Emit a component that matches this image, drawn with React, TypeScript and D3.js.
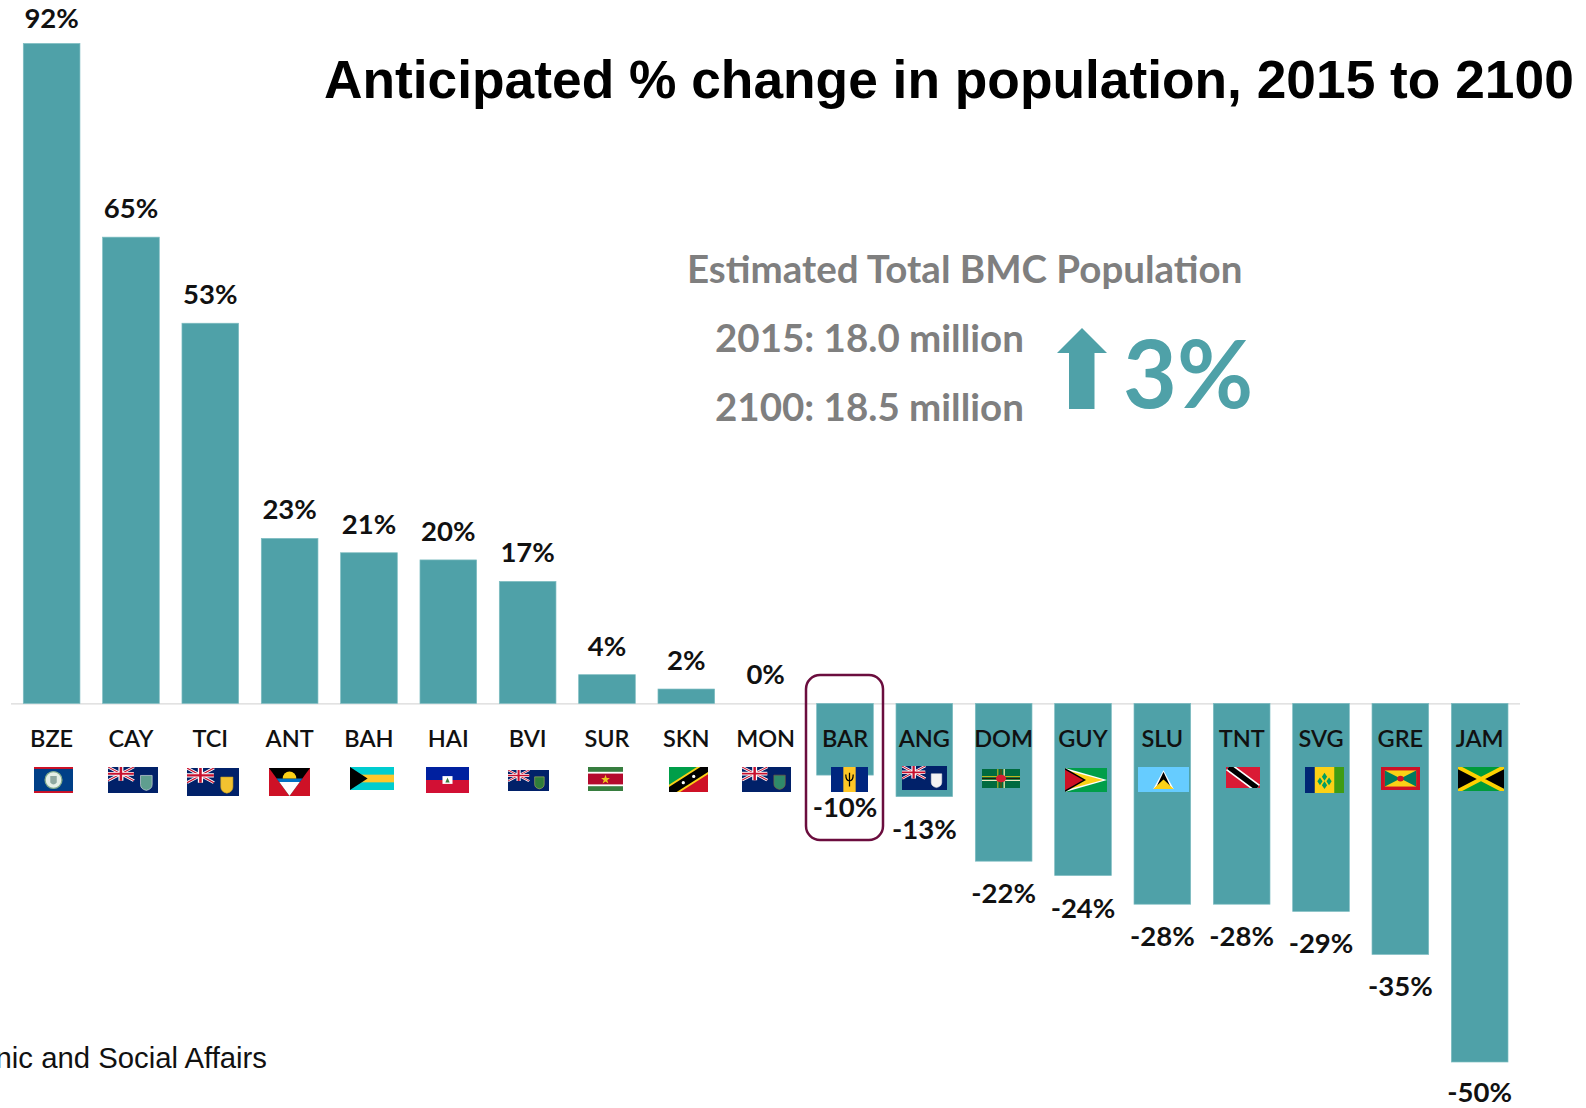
import React from "react";
import * as d3 from "d3";

const codes = ["BZE","CAY","TCI","ANT","BAH","HAI","BVI","SUR","SKN","MON","BAR","ANG","DOM","GUY","SLU","TNT","SVG","GRE","JAM"];
const changes = [92,65,53,23,21,20,17,4,2,0,-10,-13,-22,-24,-28,-28,-29,-35,-50];

const TEAL = "#4fa1a8";
const GREY = "#7f7f7f";
const W = 1586, H = 1108;

const x = d3.scaleBand<string>().domain(codes).range([23.3, 1508]).paddingInner(0.286).paddingOuter(0);
const y = d3.scaleLinear().domain([-50, 92]).range([1062, 43.5]);

// Flag boxes as [left, top, width, height] in page pixels
const flagBoxes: Record<string, number[]> = {
  BZE:[34,767,39,26], CAY:[108,767,50,26], TCI:[187,768,52,28], ANT:[269,768,41,28], BAH:[350,767,44,23],
  HAI:[426,767,43,26], BVI:[508,770,41,21], SUR:[588,767,35,24], SKN:[669,767,39,25], MON:[742,767,49,25],
  BAR:[831,767,37,25], ANG:[902,766,45,24], DOM:[982,769,38,19], GUY:[1065,768,42,24], SLU:[1138,767,51,25],
  TNT:[1226,767,34,21], SVG:[1305,767,39,26], GRE:[1381,767,39,23], JAM:[1458,767,46,24],
};

const NAVY = "#012169";
const RED = "#ce1126";

// Blue ensign: navy field, Union Jack canton, small badge in the fly
function Ensign({ badge, rim = "#e8e8e8" }: { badge: string; rim?: string }) {
  return (
    <g>
      <rect width="60" height="40" fill={NAVY} />
      <g>
        <rect width="31" height="21" fill={NAVY} />
        <path d="M0 0L31 21M31 0L0 21" stroke="#fff" strokeWidth="4" />
        <path d="M0 0L31 21M31 0L0 21" stroke="#c8102e" strokeWidth="1.5" />
        <path d="M15.500 0V21M0 10.500H31" stroke="#fff" strokeWidth="6" />
        <path d="M15.500 0V21M0 10.500H31" stroke="#c8102e" strokeWidth="3" />
      </g>
      <path d="M39 13H53V27Q53 34 46 36Q39 34 39 27Z" fill={badge} stroke={rim} strokeWidth="0.8" />
    </g>
  );
}

const flags: Record<string, React.ReactNode> = {
  BZE: (<g>
    <rect width="60" height="40" fill="#003f87" />
    <rect width="60" height="3" fill={RED} /><rect y="37" width="60" height="3" fill={RED} />
    <circle cx="30" cy="20" r="13" fill="#e6efe6" stroke="#7fa98a" strokeWidth="2" />
    <path d="M25 14H35V24Q30 30 25 24Z" fill="#8fa8a0" />
  </g>),
  CAY: <Ensign badge="#5f9e8f" />,
  TCI: <Ensign badge="#f2c230" rim="#c9a020" />,
  ANT: (<g>
    <rect width="60" height="40" fill={RED} />
    <path d="M0 0H60L30 40Z" fill="#000" />
    <path d="M15 20H45L30 40Z" fill="#fff" />
    <path d="M11 15H49L45 20H15Z" fill="#0072c6" />
    <path d="M20 15A10 10 0 0 1 40 15Z" fill="#fcd116" />
  </g>),
  BAH: (<g>
    <rect width="60" height="40" fill="#00cdd0" />
    <rect y="13.3" width="60" height="13.4" fill="#ffc72c" />
    <path d="M0 0L24 20L0 40Z" fill="#000" />
  </g>),
  HAI: (<g>
    <rect width="60" height="20" fill="#00209f" />
    <rect y="20" width="60" height="20" fill="#d21034" />
    <rect x="23" y="14" width="14" height="12" fill="#fff" />
    <path d="M27 24L30 16L33 24Z" fill="#3a7a3a" />
  </g>),
  BVI: <Ensign badge="#2f7d3b" rim="#d8c060" />,
  SUR: (<g>
    <rect width="60" height="40" fill="#377e3f" />
    <rect y="8" width="60" height="24" fill="#fff" />
    <rect y="11" width="60" height="18" fill="#b40a2d" />
    <path d="M30 13L32 18.500H37.500L33 22L35 27.500L30 24L25 27.500L27 22L22.500 18.500H28Z" fill="#ecc81d" />
  </g>),
  SKN: (<g>
    <rect width="60" height="40" fill="#009e49" />
    <path d="M60 0V40H0Z" fill="#ce1126" />
    <path d="M0 40L60 0" stroke="#fcd116" strokeWidth="19" />
    <path d="M0 40L60 0" stroke="#000" strokeWidth="13" />
    <circle cx="22" cy="25" r="2.500" fill="#fff" /><circle cx="38" cy="15" r="2.500" fill="#fff" />
  </g>),
  MON: <Ensign badge="#2f8a6a" rim="#8a5a3a" />,
  BAR: (<g>
    <rect width="60" height="40" fill="#00267f" />
    <rect x="20" width="20" height="40" fill="#ffc726" />
    <path d="M30 9V31M24 12Q24 22 30 22Q36 22 36 12" stroke="#000" strokeWidth="2" fill="none" />
  </g>),
  ANG: <Ensign badge="#f3f3f3" />,
  DOM: (<g>
    <rect width="60" height="40" fill="#006b3f" />
    <path d="M0 16H60M0 20H60M0 24H60" stroke="#fcd116" strokeWidth="1.500" />
    <path d="M0 20H60" stroke="#000" strokeWidth="1.500" />
    <path d="M0 24H60" stroke="#fff" strokeWidth="1.500" />
    <path d="M25 0V40M30 0V40M35 0V40" stroke="#fcd116" strokeWidth="1.500" />
    <path d="M30 0V40" stroke="#000" strokeWidth="1.500" />
    <path d="M35 0V40" stroke="#fff" strokeWidth="1.500" />
    <circle cx="30" cy="20" r="8" fill="#d41c30" />
  </g>),
  GUY: (<g>
    <rect width="60" height="40" fill="#009e49" />
    <path d="M0 0L60 20L0 40Z" fill="#fff" />
    <path d="M0 3L54 20L0 37Z" fill="#fcd116" />
    <path d="M0 0L30 20L0 40Z" fill="#000" />
    <path d="M0 3L26 20L0 37Z" fill="#ce1126" />
  </g>),
  SLU: (<g>
    <rect width="60" height="40" fill="#66ccff" />
    <path d="M30 5L42 35H18Z" fill="#fff" />
    <path d="M30 8L39.500 35H20.500Z" fill="#000" />
    <path d="M30 20L42 35H18Z" fill="#fcd116" />
  </g>),
  TNT: (<g>
    <rect width="60" height="40" fill="#da1a35" />
    <path d="M5 0L55 40" stroke="#fff" strokeWidth="16" />
    <path d="M5 0L55 40" stroke="#000" strokeWidth="10" />
  </g>),
  SVG: (<g>
    <rect width="60" height="40" fill="#fcd116" />
    <rect width="15" height="40" fill="#002674" />
    <rect x="45" width="15" height="40" fill="#3f9c12" />
    <path d="M30 9L34 15L30 21L26 15ZM23 16L27 22L23 28L19 22ZM37 16L41 22L37 28L33 22ZM30 22L34 28L30 34L26 28Z" fill="#009e60" />
  </g>),
  GRE: (<g>
    <rect width="60" height="40" fill="#ce1126" />
    <rect x="6" y="6" width="48" height="28" fill="#fcd116" />
    <path d="M6 6L30 20L6 34Z" fill="#007a5e" />
    <path d="M54 6L30 20L54 34Z" fill="#007a5e" />
    <circle cx="30" cy="20" r="5" fill="#ce1126" />
  </g>),
  JAM: (<g>
    <rect width="60" height="40" fill="#009b3a" />
    <path d="M0 0L30 20L0 40Z" fill="#000" />
    <path d="M60 0L30 20L60 40Z" fill="#000" />
    <path d="M0 0L60 40M60 0L0 40" stroke="#fed100" strokeWidth="6" />
  </g>),
};

const labelFont = "Lato, sans-serif";
const fmt = (v: number) => `${v}%`;

export default function App() {
  const y0 = y(0);
  return (
    <svg width={W} height={H} viewBox={`0 0 ${W} ${H}`} style={{ position: "absolute", left: 0, top: 0, display: "block", background: "#fff" }}>
      <line x1={11} x2={1520} y1={y0 + 0.5} y2={y0 + 0.5} stroke="#d9d9d9" strokeWidth={1.2} />

      {codes.map((c, i) => {
        const v = changes[i];
        return (
          <rect key={c} x={x(c)} width={x.bandwidth()} y={Math.min(y(v), y0)} height={Math.abs(y(v) - y0)} fill={TEAL} stroke="#7dbcc1" strokeWidth={0.7} />
        );
      })}

      {codes.map((c) => {
        const [fx, fy, fw, fh] = flagBoxes[c];
        return (
          <svg key={c} x={fx} y={fy} width={fw} height={fh} viewBox="0 0 60 40" preserveAspectRatio="none">
            {flags[c]}
          </svg>
        );
      })}

      {codes.map((c) => (
        <text key={c} x={x(c)! + x.bandwidth() / 2} y={747} textAnchor="middle" fontFamily={labelFont} fontWeight={600} fontSize={23.5} fill="#111">{c}</text>
      ))}

      {codes.map((c, i) => {
        const v = changes[i];
        return (
          <text key={c} x={x(c)! + x.bandwidth() / 2} y={v >= 0 ? Math.max(y(v) - 19, 28) : Math.min(y(v) + 42, 1102)} textAnchor="middle" fontFamily={labelFont} fontWeight={700} fontSize={27.5} fill="#111">{fmt(v)}</text>
        );
      })}

      <rect x={806} y={675} width={77} height={165} rx={14} fill="none" stroke="#6b0d3e" strokeWidth={2.5} />

      <text x={324} y={98} fontFamily="'Liberation Sans', Arial, sans-serif" fontWeight={700} fontSize={53.3} fill="#000">Anticipated % change in population, 2015 to 2100</text>

      <text x={687} y={283} fontFamily={labelFont} fontWeight={700} fontSize={38.5} fill={GREY}>Estimated Total BMC Population</text>
      <text x={715} y={352} fontFamily={labelFont} fontWeight={700} fontSize={38.5} fill={GREY}>2015: 18.0 million</text>
      <text x={715} y={421} fontFamily={labelFont} fontWeight={700} fontSize={38.5} fill={GREY}>2100: 18.5 million</text>
      <path d="M1082 328L1107 353H1094.500V409H1069V353H1057Z" fill={TEAL} />
      <text x={1123} y={408} fontFamily={labelFont} fontWeight={700} fontSize={93} fill={TEAL}>3%</text>

      <text x={267} y={1068} textAnchor="end" fontFamily="'Liberation Sans', Arial, sans-serif" fontSize={29.3} fill="#111">nic and Social Affairs</text>
    </svg>
  );
}
